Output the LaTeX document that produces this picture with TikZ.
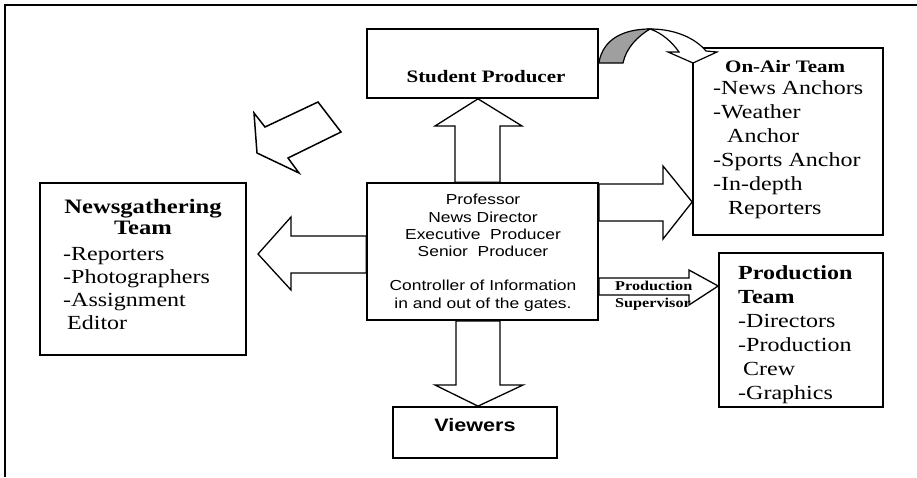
\documentclass[tikz,border=0pt]{standalone}
\usepackage{fontspec}
\newfontfamily\serifw{Liberation Serif}[FakeStretch=1.2]
\newfontfamily\sansw{Liberation Sans}[FakeStretch=1.2]
\usetikzlibrary{positioning}

\begin{document}
\begin{tikzpicture}[x=1pt, y=-1pt,
  box/.style={draw, line width=1.7pt, inner sep=0pt},
  blk/.style={draw, line width=1.3pt, fill=white, line join=miter},
  txt/.style={inner sep=0pt, anchor=base west, align=left},
  head/.style={txt, font=\serifw\bfseries\fontsize{17.5}{21}\selectfont},
  team/.style={txt, font=\serifw\fontsize{20}{23.5}\selectfont}]
\useasboundingbox (0,0) rectangle (917,477);
\draw[line width=1.6pt] (5,477) -- (5,5) -- (917,5);
% boxes
\node[box, minimum width=231pt, minimum height=69pt] (SP) at (482.5,63.5) {};
\node[box, minimum width=231pt, minimum height=137pt] (CTR) at (482.5,251.5) {};
\node[box, minimum width=206pt, minimum height=172pt] (NEWS) at (143,269) {};
\node[box, minimum width=190pt, minimum height=187pt] (AIR) at (788,141.5) {};
\node[box, minimum width=164pt, minimum height=154pt] (PROD) at (801,330) {};
\node[box, minimum width=164pt, minimum height=51pt] (VIEW) at (475,432.5) {};
% block arrows
\draw[blk] (CTR.north -| 455,0) -- (455,126) -- (435,126) -- (SP.south -| 478,0) -- (522,126) -- (500,126) -- (CTR.north -| 500,0) -- cycle;
\draw[blk] (CTR.south -| 456,0) -- (456,385) -- (435,385) -- (VIEW.north -| 478,0) -- (523,385) -- (500,385) -- (CTR.south -| 500,0) -- cycle;
\draw[blk] (CTR.west |- 0,236) -- (291,236) -- (291,217) -- (258,254) -- (291,290) -- (291,273) -- (CTR.west |- 0,273) -- cycle;
\draw[blk] (CTR.east |- 0,184) -- (663,184) -- (663,166) -- (AIR.west |- 0,202) -- (663,239) -- (663,221) -- (CTR.east |- 0,221) -- cycle;
\draw[blk] (CTR.east |- 0,278) -- (689,278) -- (689,270) -- (PROD.west |- 0,286) -- (689,305) -- (689,295) -- (CTR.east |- 0,295) -- cycle;
\draw[blk, line width=1.5pt] (254,113) -- (265,127) -- (318,102) -- (341,132) -- (288,158) -- (299,173) -- (257,153) -- cycle;
% curved arrow
\draw[line width=1.2pt, fill=gray!75] (SP.east |- 0,63) .. controls (603,38) and (625,29) .. (650,29) .. controls (638,36) and (626,48) .. (623,63) -- cycle;
\draw[line width=1.2pt, fill=white] (650,29) .. controls (675,29) and (695,38) .. (706,51) -- (717,52) -- (693,63) -- (668,52) -- (679,52) .. controls (672,42) and (662,33) .. (650,29) -- cycle;
% texts (base = last line)
\node[head, anchor=base] (SPtxt) at (486,82) {Student Producer};
\node[txt, anchor=base, align=center, font=\sansw\fontsize{14.5}{17.2}\selectfont] (CTRtxt) at (483,308)
  {Professor\\News Director\\Executive~~Producer\\Senior~~Producer\\[17.2pt]Controller of Information\\in and out of the gates.};
\node[txt, anchor=base, align=center, font=\serifw\bfseries\fontsize{20.5}{21}\selectfont] (NEWShead) at (143,234) {Newsgathering\\Team};
\node[team, font=\serifw\fontsize{20}{23}\selectfont] (NEWSlist) at (63,329) {-Reporters\\-Photographers\\-Assignment\\\hspace*{4pt}Editor};
\node[head] (AIRhead) at (725,72) {On-Air Team};
\node[team, font=\serifw\fontsize{20}{24}\selectfont] (AIRlist) at (713,214)
  {-News Anchors\\-Weather\\\hspace*{14pt}Anchor\\-Sports Anchor\\-In-depth\\\hspace*{15pt}Reporters};
\node[team, font=\serifw\fontsize{20}{24}\selectfont] (PRODtxt) at (738,399)
  {\textbf{Production}\\\textbf{Team}\\-Directors\\-Production\\\hspace*{5pt}Crew\\-Graphics};
\node[txt, font=\serifw\bfseries\fontsize{13.5}{17}\selectfont] (SUPtxt) at (615,307) {Production\\Supervisor};
\node[txt, anchor=base, font=\sansw\bfseries\fontsize{18}{20}\selectfont] (VIEWtxt) at (475,431) {Viewers};
\end{tikzpicture}
\end{document}
